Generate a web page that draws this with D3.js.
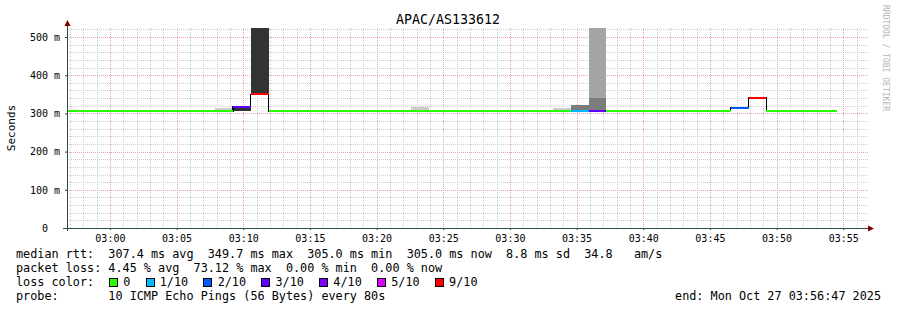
<!DOCTYPE html>
<html><head><meta charset="utf-8">
<script src="https://cdn.jsdelivr.net/npm/d3@7"></script>
<style>
body{margin:0;background:#fff}
svg text{font-family:"DejaVu Sans Mono",monospace;white-space:pre}
</style>
</head><body>
<svg id="chart" width="897" height="310" xml:space="preserve"></svg>
<script>
// ---------------- data ----------------
const title = "APAC/AS133612";
const yAxisTitle = "Seconds";
const watermark = "RRDTOOL / TOBI OETIKER";
const startTime = "2025-10-27T02:56:47";
const endTime = "2025-10-27T03:56:47";
const firstStepTime = "2025-10-27T02:55:54";   // start of the (partial) first 80 s step
const stepSeconds = 80;

// median rtt (ms) per 80 s step
const medianMs = [
  305,305,305,305,305,305,305,305,305,305,
  317,350,
  305,305,305,305,305,305,305,305,305,305,305,305,305,
  305,305,305,305,305,305,305,305,305,305,305,305,305,
  314,341,
  305,305,305,305
];
// lost pings out of 10 per step
const lossTenths = [
  0,0,0,0,0,0,0,0,0,0,
  3,9,
  0,0,0,0,0,0,0,0,0,0,0,0,0,
  0,0,0,0,1,3,0,0,0,0,0,0,0,
  2,9,
  0,0,0,0
];
// smoke bands (spread of individual pings): step index, low ms, high ms, ping density
const smokeStep    = [0,   9,   10,  11,  16,  19,  20,  27,  28,  29,  30,  30];
const smokeLowMs   = [305, 305, 305, 350, 305, 305, 305, 305, 305, 305, 305, 340];
const smokeHighMs  = [310, 315, 317, 530, 310, 310, 316, 310, 314, 322, 340, 530];
const smokeDensity = [1,   1,   4,   4,   1,   1,   1,   1,   1,   3,   3,   2];

const yMaxMs = 523.6;
const yTicksMs = [0, 100, 200, 300, 400, 500];
const yTickLabels = ["  0  ", "100 m", "200 m", "300 m", "400 m", "500 m"];

const lossThresholds = [1, 2, 3, 4, 5, 9];
const lossLabels = ["0", "1/10", "2/10", "3/10", "4/10", "5/10", "9/10"];
const lossColors = ["#26ff00", "#00b8ff", "#0059ff", "#5e00ff", "#7e00ff", "#dd00ff", "#ff0000"];

const legendLine1 = "median rtt:  307.4 ms avg  349.7 ms max  305.0 ms min  305.0 ms now  8.8 ms sd  34.8   am/s";
const legendLine2 = "packet loss: 4.45 % avg  73.12 % max  0.00 % min  0.00 % now";
const legendLine3Head = "loss color:";
const legendLine4 = "probe:       10 ICMP Echo Pings (56 Bytes) every 80s";
const legendEnd = "end: Mon Oct 27 03:56:47 2025";

// ---------------- drawing ----------------
const svg = d3.select("#chart");
const L = 67, R = 867, T = 28, B = 228;
const parse = s => new Date(s);
const t0 = parse(startTime), t1 = parse(endTime), ts0 = parse(firstStepTime);
const x = d3.scaleTime().domain([t0, t1]).range([L, R]);
const y = d3.scaleLinear().domain([0, yMaxMs]).range([B, T]);
const stepStart = i => new Date(ts0.getTime() + i * stepSeconds * 1000);
const stepEnd = i => new Date(ts0.getTime() + (i + 1) * stepSeconds * 1000);
const lossColor = d3.scaleThreshold().domain(lossThresholds).range(lossColors);
const smokeColor = d3.scaleOrdinal().domain([1, 2, 3, 4]).range(["#cccccc", "#a4a4a4", "#7c7c7c", "#333333"]);

svg.append("defs").append("clipPath").attr("id", "plot")
  .append("rect").attr("x", L).attr("y", T).attr("width", R - L).attr("height", B - T);

// grid
const grid = svg.append("g").attr("shape-rendering", "crispEdges");
const minorY = d3.range(20, yMaxMs, 20).filter(v => v % 100 !== 0);
const majorY = yTicksMs.filter(v => v > 0);
grid.selectAll(".gy").data(minorY).join("line")
  .attr("x1", L).attr("x2", R + 2).attr("y1", d => Math.round(y(d)) + 0.5).attr("y2", d => Math.round(y(d)) + 0.5)
  .attr("stroke", "#cdcdcd").attr("stroke-dasharray", "1,1");
const minorX = x.ticks(d3.timeMinute.every(1)).filter(d => d.getMinutes() % 5 !== 0);
const majorX = x.ticks(d3.timeMinute.every(5));
grid.selectAll(".gx").data(minorX).join("line")
  .attr("x1", d => Math.round(x(d)) + 0.5).attr("x2", d => Math.round(x(d)) + 0.5)
  .attr("y1", T).attr("y2", B)
  .attr("stroke", "#cdcdcd").attr("stroke-dasharray", "1,1");
grid.selectAll(".my").data(majorY).join("line")
  .attr("x1", L).attr("x2", R + 2).attr("y1", d => Math.round(y(d)) + 0.5).attr("y2", d => Math.round(y(d)) + 0.5)
  .attr("stroke", "#eaa4a4").attr("stroke-dasharray", "1,1");
grid.selectAll(".mx").data(majorX).join("line")
  .attr("x1", d => Math.round(x(d)) + 0.5).attr("x2", d => Math.round(x(d)) + 0.5)
  .attr("y1", T).attr("y2", B)
  .attr("stroke", "#eaa4a4").attr("stroke-dasharray", "1,1");

// smoke
const plot = svg.append("g").attr("clip-path", "url(#plot)").attr("shape-rendering", "crispEdges");
plot.selectAll(".smoke").data(smokeStep.map((s, j) => j)).join("rect")
  .attr("x", j => Math.round(x(stepStart(smokeStep[j]))))
  .attr("width", j => Math.round(x(stepEnd(smokeStep[j]))) - Math.round(x(stepStart(smokeStep[j]))))
  .attr("y", j => Math.round(y(smokeHighMs[j])))
  .attr("height", j => Math.round(y(smokeLowMs[j])) - Math.round(y(smokeHighMs[j])))
  .attr("fill", j => smokeColor(smokeDensity[j]));

// median: black step line then loss-coloured segments
const pts = medianMs.map((v, i) => [x(stepStart(i)), y(v)]);
pts.push([x(stepEnd(medianMs.length - 1)), y(medianMs[medianMs.length - 1])]);
plot.append("path").attr("d", d3.line().curve(d3.curveStepAfter)(pts))
  .attr("fill", "none").attr("stroke", "#000").attr("stroke-width", 1.2);
plot.selectAll(".med").data(medianMs.map((v, i) => i)).join("line")
  .attr("x1", i => Math.round(x(stepStart(i)))).attr("x2", i => Math.round(x(stepEnd(i))))
  .attr("y1", i => Math.round(y(medianMs[i]))).attr("y2", i => Math.round(y(medianMs[i])))
  .attr("stroke", i => lossColor(lossTenths[i])).attr("stroke-width", 2);

// axes
const xAxis = d3.axisBottom(x).ticks(d3.timeMinute.every(5)).tickFormat(d3.timeFormat("%H:%M"))
  .tickSize(2).tickPadding(5);
const gx = svg.append("g").attr("transform", `translate(0,${B})`).call(xAxis);
gx.select(".domain").remove();
gx.selectAll("text").attr("font-size", "10px").attr("font-family", "DejaVu Sans Mono").attr("fill", "#000");
gx.selectAll("line").attr("stroke", "#2c4d43");

const yAxis = d3.axisLeft(y).tickValues(yTicksMs).tickFormat((d, i) => yTickLabels[i])
  .tickSize(2).tickPadding(5);
const gy = svg.append("g").attr("transform", `translate(${L},0)`).call(yAxis);
gy.select(".domain").remove();
gy.selectAll("text").attr("font-size", "10px").attr("font-family", "DejaVu Sans Mono").attr("fill", "#000");
gy.selectAll("line").attr("stroke", "#2c4d43");

svg.append("line").attr("x1", L - 4).attr("x2", R + 3).attr("y1", B + 0.5).attr("y2", B + 0.5)
  .attr("stroke", "#2c4d43").attr("shape-rendering", "crispEdges");
svg.append("line").attr("x1", L + 0.5).attr("x2", L + 0.5).attr("y1", B + 3).attr("y2", T - 4)
  .attr("stroke", "#2c4d43").attr("shape-rendering", "crispEdges");
svg.append("path").attr("d", `M${L + 0.5},${T - 8} L${L - 2.5},${T - 2} L${L + 3.5},${T - 2} Z`).attr("fill", "#7f0000");
svg.append("path").attr("d", `M${R + 7},${B + 0.5} L${R + 1},${B - 2.5} L${R + 1},${B + 3.5} Z`).attr("fill", "#7f0000");

// titles
svg.append("text").attr("x", 448).attr("y", 24).attr("text-anchor", "middle")
  .attr("font-size", "13.3px").text(title);
svg.append("text").attr("transform", `translate(15,${(T + B) / 2}) rotate(-90)`).attr("text-anchor", "middle")
  .attr("font-size", "11px").text(yAxisTitle);
svg.append("text").attr("transform", "translate(883,5) rotate(90)")
  .attr("font-size", "8px").attr("fill", "#b4b4b4").text(watermark);

// legend
const lx = 16, cw = 7.1, fs = "11.8px";
const legend = svg.append("g").attr("font-size", fs).attr("fill", "#000");
legend.append("text").attr("x", lx).attr("y", 258).text(legendLine1);
legend.append("text").attr("x", lx).attr("y", 272).text(legendLine2);
legend.append("text").attr("x", lx).attr("y", 286).text(legendLine3Head);
legend.append("text").attr("x", lx).attr("y", 300).text(legendLine4);
legend.append("text").attr("x", 881).attr("y", 300).attr("text-anchor", "end").text(legendEnd);
let c = 13.1;
lossLabels.forEach((lab, i) => {
  const bx = Math.round(lx + c * cw);
  legend.append("rect").attr("x", bx + 0.5).attr("y", 278.5).attr("width", 8).attr("height", 8)
    .attr("fill", lossColors[i]).attr("stroke", "#000").attr("stroke-width", 1);
  legend.append("text").attr("x", lx + (c + 2) * cw).attr("y", 286).text(lab);
  c += 2 + lab.length + 2.15;
});
</script>
</body></html>
